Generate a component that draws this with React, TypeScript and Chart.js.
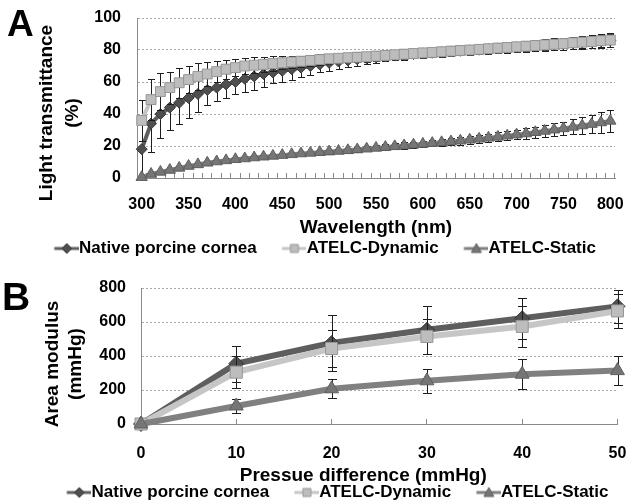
import React, { useEffect, useRef } from 'react';
import { Chart, registerables } from 'chart.js';

Chart.register(...registerables);

const FONT = '"Liberation Sans", Arial, Helvetica, sans-serif';
Chart.defaults.font.family = FONT;

// ---------- Panel A: light transmittance ----------
const wavelengths = [
  300, 310, 320, 330, 340, 350, 360, 370, 380, 390,
  400, 410, 420, 430, 440, 450, 460, 470, 480, 490,
  500, 510, 520, 530, 540, 550, 560, 570, 580, 590,
  600, 610, 620, 630, 640, 650, 660, 670, 680, 690,
  700, 710, 720, 730, 740, 750, 760, 770, 780, 790, 800,
];
const wavelengthTickLabels = [300, 350, 400, 450, 500, 550, 600, 650, 700, 750, 800];

const nativeTransmittance = [
  18, 34, 40, 44, 47, 50, 52.5, 55, 56.5, 58.5,
  60, 62, 63.5, 65, 66, 67, 68, 69, 70, 71,
  72, 72.8, 73.5, 74.2, 74.8, 75.4, 76, 76.5, 77, 77.5,
  77.9, 78.3, 78.7, 79.1, 79.5, 79.8, 80.2, 80.6, 81, 81.4,
  81.8, 82.2, 82.6, 83, 83.4, 83.8, 84.3, 84.7, 85.1, 85.6, 86,
];
const nativeTransmittanceSd = [
  18, 18, 15, 14, 13, 12.5, 11, 9.5, 8.5, 8.5,
  7.5, 8, 8.5, 8, 6.5, 7, 6.5, 6, 5.5, 5,
  5, 4.5, 4, 4, 3.5, 3.5, 3, 3, 3, 2.5,
  2.5, 2.5, 2.5, 2.5, 2.5, 2.5, 2.5, 2.5, 2.8, 2.8,
  3, 3, 3.2, 3.2, 3.4, 3.5, 3.6, 3.7, 3.8, 3.9, 4,
];
const dynamicTransmittance = [
  36, 49, 54, 56.5, 59.5, 61.5, 63.5, 65, 66.5, 68,
  69, 70, 70.5, 71, 71.5, 72, 72.5, 73, 73.5, 74,
  74.5, 74.8, 75.2, 75.5, 75.8, 76.2, 76.6, 77, 77.4, 77.8,
  78.2, 78.5, 78.9, 79.3, 79.7, 80, 80.4, 80.8, 81.2, 81.6,
  82, 82.4, 82.8, 83.2, 83.6, 84, 84.5, 84.9, 85.3, 85.8, 86.2,
];
const dynamicTransmittanceSd = [
  13, 13, 11.5, 10, 9.5, 8.5, 8.5, 7.5, 6.5, 6,
  5.5, 5, 5, 4.5, 4.5, 4, 4, 3.5, 3.5, 3.5,
  3, 3, 3, 3, 3, 3, 3, 3, 3, 3,
  3, 3, 3, 3, 3, 3, 3, 3, 3.2, 3.2,
  3.3, 3.4, 3.5, 3.6, 3.7, 3.8, 3.9, 4, 4.2, 4.4, 4.5,
];
const staticTransmittance = [
  0.5, 2.5, 3.8, 5, 6.3, 7.5, 8.5, 9.5, 10.3, 11,
  11.7, 12.2, 12.8, 13.3, 13.8, 14.3, 14.8, 15.3, 15.7, 16.1,
  16.5, 16.9, 17.3, 17.8, 18.3, 18.8, 19.3, 19.8, 20.3, 20.8,
  21.3, 21.8, 22.3, 22.8, 23.3, 23.9, 24.5, 25.1, 25.7, 26.4,
  27.1, 27.8, 28.6, 29.4, 30.2, 31, 31.9, 32.8, 33.7, 34.7, 35.7,
];
const staticTransmittanceSd = [
  1, 1, 1, 1, 1, 1, 1, 1, 1, 1,
  1, 1, 1, 1, 1, 1, 1.2, 1.2, 1.2, 1.3,
  1.3, 1.4, 1.4, 1.5, 1.5, 1.6, 1.7, 1.8, 1.9, 2,
  2, 2.1, 2.2, 2.3, 2.4, 2.5, 2.6, 2.7, 2.8, 2.9,
  3, 3.2, 3.4, 3.7, 4, 4.3, 4.7, 5.2, 5.8, 6.4, 7,
];

// ---------- Panel B: area modulus ----------
const pressureDiffs = [0, 10, 20, 30, 40, 50];
const nativeModulus = [0, 355, 476, 554, 622, 692];
const nativeModulusSd = [0, 105, 167, 142, 122, 95];
const dynamicModulus = [0, 305, 444, 515, 574, 665];
const dynamicModulusSd = [0, 95, 110, 102, 122, 100];
const staticModulus = [0, 106, 207, 254, 293, 314];
const staticModulusSd = [0, 40, 56, 72, 88, 84];

const seriesNames = ['Native porcine cornea', 'ATELC-Dynamic', 'ATELC-Static'];

// ---------- styles ----------
const SERIES_STYLE = [
  { line: '#5e5e5e', fill: '#4f4f4f', stroke: '#3a3a3a', shape: 'rectRot', icon: 'diamond' },
  { line: '#c6c6c6', fill: '#bdbdbd', stroke: '#979797', shape: 'rect', icon: 'square' },
  { line: '#808080', fill: '#767676', stroke: '#5f5f5f', shape: 'triangle', icon: 'triangle' },
];
const AXIS = '#8a8a8a';
const GRID = '#a8a8a8';
const TICK_FONT = { family: FONT, size: 16, weight: 'bold' as const };
const TITLE_FONT = { family: FONT, size: 19, weight: 'bold' as const };
const LEGEND_FONT = { family: FONT, size: 17, weight: 'bold' as const };
const PW = 37.5;

function makeIcon(style: any): HTMLCanvasElement {
  const W = PW + 17;
  const H = 14;
  const c = document.createElement('canvas');
  c.width = W;
  c.height = H;
  const g = c.getContext('2d')!;
  g.strokeStyle = style.line;
  g.lineWidth = 3;
  g.beginPath();
  g.moveTo(W - 25, H / 2);
  g.lineTo(W, H / 2);
  g.stroke();
  const cx = W - 12.5;
  const cy = H / 2;
  g.fillStyle = style.fill;
  g.strokeStyle = style.stroke;
  g.lineWidth = 1;
  g.beginPath();
  if (style.icon === 'diamond') {
    g.moveTo(cx, cy - 5);
    g.lineTo(cx + 5, cy);
    g.lineTo(cx, cy + 5);
    g.lineTo(cx - 5, cy);
    g.closePath();
  } else if (style.icon === 'square') {
    g.rect(cx - 4, cy - 4, 8, 8);
  } else {
    g.moveTo(cx, cy - 5);
    g.lineTo(cx + 5, cy + 4);
    g.lineTo(cx - 5, cy + 4);
    g.closePath();
  }
  g.fill();
  g.stroke();
  return c;
}

// Offsets an axis title the way the original figure has it (moved off-centre).
function shiftTitle(dx: number, dy: number) {
  return (s: any) => {
    if (s.__shifted) return;
    s.__shifted = true;
    const orig = s.drawTitle.bind(s);
    s.drawTitle = (...a: any[]) => {
      const ctx = s.ctx;
      ctx.save();
      ctx.translate(dx, dy);
      orig(...a);
      ctx.restore();
    };
  };
}

const errorBarsPlugin = {
  id: 'errorBars',
  beforeDatasetDraw(chart: any, args: any, opts: any) {
    const sd = opts.errors && opts.errors[args.index];
    if (!sd) return;
    const ds = chart.data.datasets[args.index];
    const yScale = chart.scales.y;
    const ctx = chart.ctx;
    ctx.save();
    ctx.strokeStyle = opts.color;
    ctx.lineWidth = opts.width;
    ctx.beginPath();
    args.meta.data.forEach((el: any, j: number) => {
      const raw = ds.data[j];
      const v = typeof raw === 'number' ? raw : raw.y;
      const e = sd[j];
      if (!e) return;
      const x = Math.round(el.x) + 0.5;
      const yt = Math.round(yScale.getPixelForValue(v + e)) + 0.5;
      const yb = Math.round(yScale.getPixelForValue(v - e)) + 0.5;
      ctx.moveTo(x, yt);
      ctx.lineTo(x, yb);
      ctx.moveTo(x - opts.cap, yt);
      ctx.lineTo(x + opts.cap, yt);
      ctx.moveTo(x - opts.cap, yb);
      ctx.lineTo(x + opts.cap, yb);
    });
    ctx.stroke();
    ctx.restore();
  },
};

const panelLabelPlugin = {
  id: 'panelLabel',
  afterDraw(chart: any, _args: any, opts: any) {
    const ctx = chart.ctx;
    ctx.save();
    ctx.font = `bold ${opts.size}px ${FONT}`;
    ctx.fillStyle = '#000';
    ctx.textBaseline = 'alphabetic';
    ctx.textAlign = 'left';
    ctx.fillText(opts.text, opts.x, opts.y);
    ctx.restore();
  },
};

function lineDataset(i: number, data: any[], lineWidth: number, radii: number[]) {
  const s = SERIES_STYLE[i];
  return {
    label: seriesNames[i],
    data,
    borderColor: s.line,
    backgroundColor: s.fill,
    borderWidth: lineWidth,
    pointStyle: s.shape,
    pointRadius: radii[i],
    pointBackgroundColor: s.fill,
    pointBorderColor: s.stroke,
    pointBorderWidth: 1,
    tension: 0,
    fill: false,
    clip: false,
    order: 3 - i,
  };
}

function legendOptions(icons: HTMLCanvasElement[]) {
  return {
    position: 'bottom' as const,
    onClick: () => {},
    labels: {
      usePointStyle: true,
      pointStyleWidth: PW,
      padding: 4,
      color: '#000',
      font: LEGEND_FONT,
      generateLabels: () =>
        seriesNames.map((name, i) => ({
          text: name,
          pointStyle: icons[i],
          fillStyle: 'rgba(0,0,0,0)',
          strokeStyle: 'rgba(0,0,0,0)',
          lineWidth: 0,
          hidden: false,
          datasetIndex: i,
          fontColor: '#000',
        })),
    },
  };
}

function yGridColor(c: any) {
  return c.tick && c.tick.value === 0 ? 'rgba(0,0,0,0)' : GRID;
}

// fixed axis box sizes; the plot area edges come from layout padding alone
function fitX(height: number) {
  return (s: any) => {
    s.height = height;
    s.paddingLeft = 0;
    s.paddingRight = 0;
  };
}
function fitY(width: number) {
  return (s: any) => {
    s.width = width;
    s.paddingTop = 0;
    s.paddingBottom = 0;
  };
}

function configA(): any {
  const icons = SERIES_STYLE.map(makeIcon);
  const tickSet = new Set(wavelengthTickLabels);
  const values = [nativeTransmittance, dynamicTransmittance, staticTransmittance];
  return {
    type: 'line',
    data: {
      labels: wavelengths.map(String),
      datasets: values.map((v, i) => lineDataset(i, v, 4, [5.5, 7, 6.5])),
    },
    options: {
      responsive: false,
      animation: false,
      events: [],
      layout: { padding: { left: 14, right: 12, top: 18, bottom: 0 } },
      scales: {
        x: {
          type: 'category',
          offset: true,
          grid: { offset: true, drawOnChartArea: false, drawTicks: true, tickLength: -5, color: AXIS },
          border: { display: true, color: AXIS, width: 1 },
          ticks: {
            autoSkip: false,
            maxRotation: 0,
            minRotation: 0,
            padding: 22,
            color: '#000',
            font: TICK_FONT,
            callback: (_v: any, idx: number) =>
              tickSet.has(wavelengths[idx]) ? String(wavelengths[idx]) : '',
          },
          title: {
            display: true,
            text: 'Wavelength (nm)',
            color: '#000',
            font: TITLE_FONT,
            padding: { top: 0, bottom: -3 },
          },
          afterFit: fitX(58),
        },
        y: {
          min: 0,
          max: 100,
          ticks: { stepSize: 20, padding: 16, color: '#000', font: TICK_FONT },
          grid: { drawTicks: false, color: yGridColor, lineWidth: 1 },
          border: { display: true, color: AXIS, width: 1, dash: [2, 2] },
          title: {
            display: true,
            text: ['Light transmittance', '(%)'],
            color: '#000',
            font: { ...TITLE_FONT, lineHeight: 1.37 },
            padding: { top: 20, bottom: 0 },
          },
          afterFit: fitY(123),
          afterUpdate: shiftTitle(0, 15),
        },
      },
      plugins: {
        legend: legendOptions(icons),
        tooltip: { enabled: false },
        errorBars: {
          errors: [nativeTransmittanceSd, dynamicTransmittanceSd, staticTransmittanceSd],
          color: '#1e1e1e',
          width: 1,
          cap: 3.5,
        },
        panelLabel: { text: 'A', size: 37, x: 7, y: 36 },
      },
    },
    plugins: [errorBarsPlugin, panelLabelPlugin],
  };
}

function configB(): any {
  const icons = SERIES_STYLE.map(makeIcon);
  const values = [nativeModulus, dynamicModulus, staticModulus];
  return {
    type: 'line',
    data: {
      datasets: values.map((v, i) =>
        lineDataset(
          i,
          pressureDiffs.map((p, j) => ({ x: p, y: v[j] })),
          6,
          [7.5, 8.5, 8]
        )
      ),
    },
    options: {
      responsive: false,
      animation: false,
      events: [],
      layout: { padding: { left: 36, right: 9, top: 26, bottom: 0 } },
      scales: {
        x: {
          type: 'linear',
          min: 0,
          max: 50,
          grid: { drawOnChartArea: false, drawTicks: true, tickLength: -5, color: AXIS },
          border: { display: true, color: AXIS, width: 1 },
          ticks: { stepSize: 10, padding: 25, maxRotation: 0, color: '#000', font: TICK_FONT },
          title: {
            display: true,
            text: 'Pressue difference (mmHg)',
            color: '#000',
            font: TITLE_FONT,
            padding: { top: 0, bottom: -7 },
          },
          afterFit: fitX(56),
          afterUpdate: shiftTitle(-16, 0),
        },
        y: {
          min: 0,
          max: 800,
          ticks: { stepSize: 200, padding: 15, color: '#000', font: TICK_FONT },
          grid: { drawTicks: false, color: yGridColor, lineWidth: 1 },
          border: { display: true, color: AXIS, width: 1, dash: [2, 2] },
          title: {
            display: true,
            text: ['Area modulus', '(mmHg)'],
            color: '#000',
            font: { ...TITLE_FONT, lineHeight: 1.2 },
            padding: { top: 5.6, bottom: 0 },
          },
          afterFit: fitY(105),
          afterUpdate: shiftTitle(0, 8),
        },
      },
      plugins: {
        legend: legendOptions(icons),
        tooltip: { enabled: false },
        errorBars: {
          errors: [nativeModulusSd, dynamicModulusSd, staticModulusSd],
          color: '#1e1e1e',
          width: 1,
          cap: 4.5,
        },
        panelLabel: { text: 'B', size: 39, x: 2, y: 48 },
      },
    },
    plugins: [errorBarsPlugin, panelLabelPlugin],
  };
}

export default function App() {
  const refA = useRef<HTMLCanvasElement>(null);
  const refB = useRef<HTMLCanvasElement>(null);

  useEffect(() => {
    const charts: Chart[] = [];
    if (refA.current) charts.push(new Chart(refA.current, configA()));
    if (refB.current) charts.push(new Chart(refB.current, configB()));
    return () => charts.forEach((c) => c.destroy());
  }, []);

  return (
    <div
      style={{
        position: 'fixed',
        left: 0,
        top: 0,
        width: 627,
        height: 503,
        overflow: 'hidden',
        background: '#fff',
      }}
    >
      <canvas
        ref={refA}
        width={627}
        height={267}
        style={{ position: 'absolute', left: 0, top: 0, display: 'block' }}
      />
      <canvas
        ref={refB}
        width={627}
        height={249}
        style={{ position: 'absolute', left: 0, top: 262, display: 'block' }}
      />
    </div>
  );
}
